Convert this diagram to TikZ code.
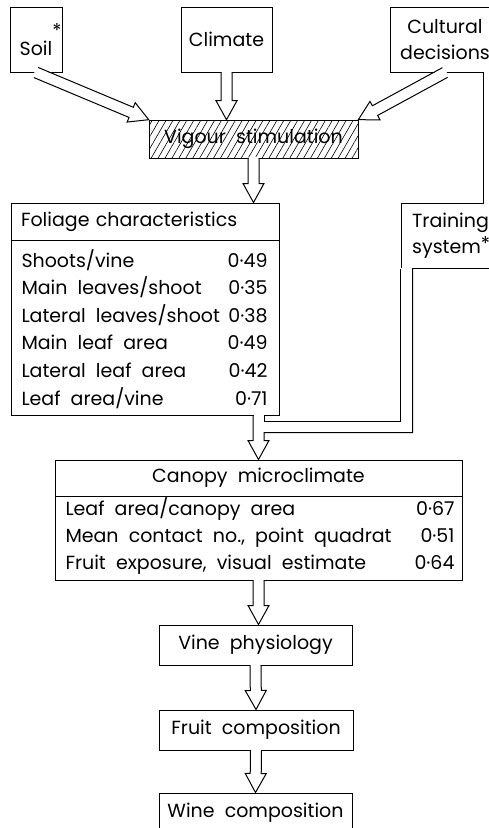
\documentclass[tikz,border=0pt]{standalone}
\usepackage{fontspec}
\setmainfont{Poppins}[WordSpace=2]
\usetikzlibrary{calc,patterns.meta}

\tikzset{
  box/.style={draw, inner sep=0pt, font=\fontsize{19}{26}\selectfont},
  pipe/.style={line join=miter},
  row/.style={inner sep=0pt, font=\fontsize{19}{26}\selectfont, anchor=base west},
  val/.style={inner sep=0pt, font=\fontsize{19}{26}\selectfont, anchor=base east},
}

% open double-lined arrow from #1 to the tip #2
\newcommand{\hollowarrow}[2]{%
  \coordinate (ha) at (#1);
  \coordinate (ht) at (#2);
  \coordinate (hb) at ($(ht)!19pt!(ha)$);
  \coordinate (hs) at ($(ha)!-1.5pt!(ht)$);
  \fill[white] ($(hs)!5pt!90:(ht)$) -- ($(hb)!5pt!90:(ht)$) -- ($(hb)!10pt!90:(ht)$) -- (ht)
    -- ($(hb)!10pt!-90:(ht)$) -- ($(hb)!5pt!-90:(ht)$) -- ($(hs)!5pt!-90:(ht)$) -- cycle;
  \draw[pipe] ($(ha)!5.5pt!90:(ht)$) -- ($(hb)!5.5pt!90:(ht)$) -- ($(hb)!10.5pt!90:(ht)$) -- (ht)
    -- ($(hb)!10.5pt!-90:(ht)$) -- ($(hb)!5.5pt!-90:(ht)$) -- ($(ha)!5.5pt!-90:(ht)$);
}

\begin{document}
\begin{tikzpicture}[x=1pt, y=-1pt, line width=1pt]
  \useasboundingbox (0,0) rectangle (489,828);
  \clip (0,0) rectangle (489,828);
  % top row
  \node[box, minimum width=52, minimum height=65] (soil) at (36,39.5) {Soil\rlap{\raisebox{0.95em}{*}}};
  \node[box, minimum width=91, minimum height=65] (climate) at (226.5,39.5) {Climate};
  \node[box, minimum width=110, minimum height=65, align=center] (cultural) at (445,39.5) {Cultural\\decisions};
  \node[box, minimum width=209, minimum height=38,
        pattern={Lines[angle=60,distance=6pt,line width=0.6pt]}] (vigour) at (253.5,139) {Vigour stimulation};
  % foliage
  \node[box, minimum width=268, minimum height=37, text width=248pt, align=left] (foliage) at (145,221.5) {Foliage characteristics};
  \node[box, minimum width=268, minimum height=175] (foliagebody) at (145,327.5) {};
  \node[row] (r1) at (21,267) {Shoots/vine};
  \node[val] (v1) at (268,267) {0·49};
  \node[row] (r2) at (21,294.6) {Main leaves/shoot};
  \node[val] (v2) at (268,294.6) {0·35};
  \node[row] (r3) at (21,322.2) {Lateral leaves/shoot};
  \node[val] (v3) at (268,322.2) {0·38};
  \node[row] (r4) at (21,349.8) {Main leaf area};
  \node[val] (v4) at (268,349.8) {0·49};
  \node[row] (r5) at (21,377.4) {Lateral leaf area};
  \node[val] (v5) at (268,377.4) {0·42};
  \node[row] (r6) at (21,405) {Leaf area/vine};
  \node[val] (v6) at (268,405) {0·71};
  \node[box, minimum width=99, minimum height=65, align=left] (training) at (450.5,235.5) {Training\\system\rlap{\raisebox{0.15em}{*}}};
  % canopy
  \node[box, minimum width=407, minimum height=36] (canopy) at (258.5,478) {Canopy microclimate};
  \node[box, minimum width=407, minimum height=84] (canopybody) at (258.5,538) {};
  \node[row] (c1) at (65,515) {Leaf area/canopy area};
  \node[val] (w1) at (455,515) {0·67};
  \node[row] (c2) at (65,542) {Mean contact no., point quadrat};
  \node[val] (w2) at (455,542) {0·51};
  \node[row] (c3) at (65,569) {Fruit exposure, visual estimate};
  \node[val] (w3) at (455,569) {0·64};
  % lower chain
  \node[box, minimum width=193, minimum height=40] (vine) at (255.5,645) {Vine physiology};
  \node[box, minimum width=194, minimum height=40] (fruit) at (256,730) {Fruit composition};
  \node[box, minimum width=193, minimum height=40] (wine) at (255.5,813) {Wine composition};
  % arrows
  \hollowarrow{soil.south}{vigour.north west}
  \hollowarrow{climate.south}{climate.south |- vigour.north}
  \hollowarrow{cultural.south}{vigour.north east}
  \hollowarrow{vigour.south}{vigour.south |- foliage.north}
  \hollowarrow{canopybody.south}{canopybody.south |- vine.north}
  \hollowarrow{vine.south}{fruit.north}
  \hollowarrow{fruit.south}{wine.north}
  % cultural decisions -> training system
  \fill[white] ($(cultural.south east)+(-16.5,-1.5)$) rectangle ($(training.north east)+(-5.5,1.5)$);
  \draw ($(cultural.south east)+(-17,0)$) -- ($(training.north east)+(-17,0)$);
  \draw ($(cultural.south east)+(-5,0)$) -- ($(training.north east)+(-5,0)$);
  % foliage + training -> canopy
  \coordinate (fm) at (canopy.north |- foliagebody.south);
  \fill[white] ($(fm)+(-5,-1.5)$) rectangle ($(fm)+(5,1)$);
  \fill[white] ($(training.south west)+(0.5,-1)$) rectangle ($(training.south west)+(11.5,1.5)$);
  \draw[pipe] ($(fm)+(-5.5,0)$) -- ($(fm)+(-5.5,25)$) -- ($(fm)+(-10.5,25)$) -- (canopy.north)
    -- ($(fm)+(10.5,25)$) -- ($(fm)+(5.5,25)$) -- ($(fm)+(5.5,17)$) -| ($(training.south west)+(12,0)$);
  \draw[pipe] ($(fm)+(5.5,0)$) -- ($(fm)+(5.5,6)$) -| (training.south west);
\end{tikzpicture}
\end{document}
